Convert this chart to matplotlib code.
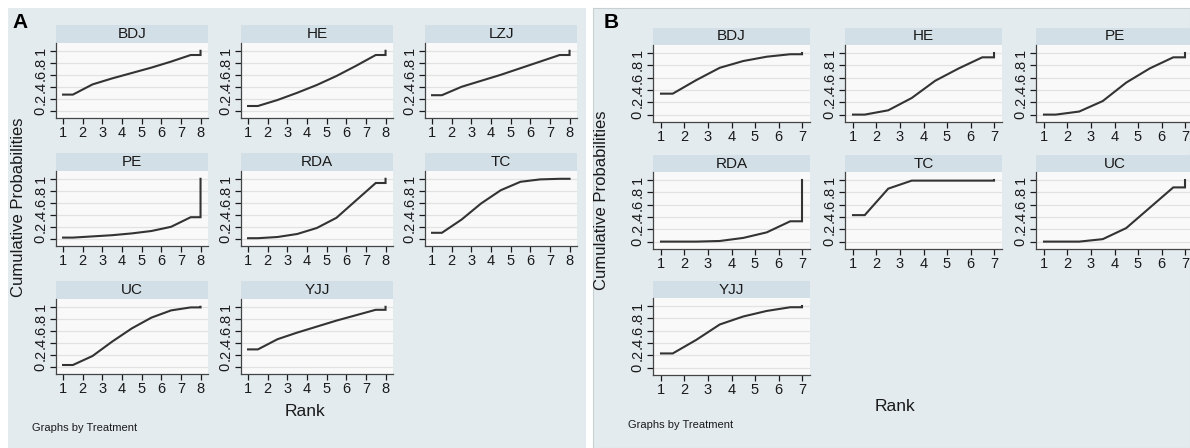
import numpy as np
import matplotlib
matplotlib.use('Agg')
import matplotlib.pyplot as plt
from matplotlib.patches import Rectangle

plt.rcParams['font.family'] = ['Liberation Sans', 'DejaVu Sans']

# данные: кумулятивные вероятности для рангов 1..n-1 (последний ранг = 1)
namesA = ['BDJ', 'HE', 'LZJ', 'PE', 'RDA', 'TC', 'UC', 'YJJ']
cumA = {
    'BDJ': [0.27, 0.44, 0.54, 0.63, 0.72, 0.82, 0.93],
    'HE':  [0.08, 0.18, 0.30, 0.43, 0.58, 0.75, 0.93],
    'LZJ': [0.26, 0.40, 0.50, 0.60, 0.71, 0.82, 0.93],
    'PE':  [0.02, 0.04, 0.06, 0.09, 0.13, 0.20, 0.36],
    'RDA': [0.01, 0.03, 0.08, 0.18, 0.35, 0.64, 0.93],
    'TC':  [0.10, 0.32, 0.59, 0.81, 0.95, 0.99, 1.00],
    'UC':  [0.03, 0.18, 0.42, 0.64, 0.82, 0.94, 0.99],
    'YJJ': [0.29, 0.46, 0.57, 0.67, 0.77, 0.86, 0.95],
}
namesB = ['BDJ', 'HE', 'PE', 'RDA', 'TC', 'UC', 'YJJ']
cumB = {
    'BDJ': [0.34, 0.56, 0.76, 0.87, 0.94, 0.98],
    'HE':  [0.00, 0.07, 0.27, 0.55, 0.75, 0.93],
    'PE':  [0.00, 0.05, 0.22, 0.52, 0.75, 0.93],
    'RDA': [0.00, 0.00, 0.01, 0.06, 0.15, 0.33],
    'TC':  [0.43, 0.86, 0.99, 0.99, 0.99, 0.99],
    'UC':  [0.00, 0.00, 0.04, 0.22, 0.55, 0.88],
    'YJJ': [0.23, 0.45, 0.70, 0.83, 0.92, 0.98],
}
yticks = [0, 0.2, 0.4, 0.6, 0.8, 1]
ytlabels = ['0', '.2', '.4', '.6', '.8', '1']

W, H = 1190, 448
BG = '#e4ebef'
STRIP = '#d3dfe7'
LINE = '#333333'

fig = plt.figure(figsize=(W / 100, H / 100), dpi=100)
fig.patch.set_facecolor('white')

def px_axes(x, y, w, h):
    # координаты в пикселях, начало сверху слева
    return fig.add_axes([x / W, 1 - (y + h) / H, w / W, h / H])

def panel(names, cum, n, cols, rows, pw, ph, sh, xlim):
    for i, name in enumerate(names):
        r, c = divmod(i, 3)
        x0, y0 = cols[c], rows[r]
        # полоска с названием
        sax = px_axes(x0, y0, pw, sh)
        sax.set_facecolor(STRIP)
        sax.set_xticks([]); sax.set_yticks([])
        for s in sax.spines.values():
            s.set_visible(False)
        sax.text(0.5, 0.5, name, ha='center', va='center', fontsize=11, color='#1a1a1a')
        ax = px_axes(x0, y0 + sh, pw, ph)
        ax.set_facecolor('#f9f9f9')
        c_vals = cum[name]
        xs = [1] + [k + 0.5 for k in range(1, n)] + [n, n]
        ys = [c_vals[0]] + list(c_vals) + [c_vals[-1], 1.0]
        ax.plot(xs, ys, color=LINE, lw=1.5, solid_joinstyle='miter')
        ax.set_xlim(*xlim)
        ax.set_ylim(-0.12, 1.13)
        ax.set_xticks(range(1, n + 1))
        ax.set_yticks(yticks)
        ax.set_yticklabels(ytlabels, rotation=90, va='center')
        ax.tick_params(labelsize=10.5, colors='#1a1a1a', length=4, width=0.9, pad=2)
        ax.grid(axis='y', color='#e2e2e2', lw=0.9)
        ax.set_axisbelow(True)
        for s in ['top', 'right']:
            ax.spines[s].set_visible(False)
        for s in ['left', 'bottom']:
            ax.spines[s].set_color('#444444')
            ax.spines[s].set_linewidth(0.9)

# фон панелей
fig.patches.append(Rectangle((8 / W, 0), 578 / W, 1 - 8 / H, transform=fig.transFigure,
                             facecolor=BG, edgecolor='none', zorder=-10))
fig.patches.append(Rectangle((593 / W, 0), (W - 593) / W, 1 - 8 / H, transform=fig.transFigure,
                             facecolor=BG, edgecolor='#c8d0d4', lw=0.8, zorder=-10))

panel(namesA, cumA, 8, [56, 241, 425], [25, 153, 281], 152, 75, 18, (0.64, 8.38))
panel(namesB, cumB, 7, [653, 845, 1036], [28, 155, 281], 157, 77, 17, (0.66, 7.34))

def ftext(x, y, s, **kw):
    fig.text(x / W, 1 - y / H, s, **kw)

ftext(12, 22, 'A', fontsize=15, fontweight='bold', va='center')
ftext(604, 22, 'B', fontsize=15, fontweight='bold', va='center')
ftext(19, 207, 'Cumulative Probabilities', rotation=90, ha='center', va='center', fontsize=12, color='#1a1a1a')
ftext(601, 200, 'Cumulative Probabilities', rotation=90, ha='center', va='center', fontsize=12, color='#1a1a1a')
ftext(305, 411, 'Rank', ha='center', va='center', fontsize=12.5, color='#1a1a1a')
ftext(895, 406, 'Rank', ha='center', va='center', fontsize=12.5, color='#1a1a1a')
ftext(32, 428, 'Graphs by Treatment', va='center', fontsize=8, color='#1a1a1a')
ftext(628, 425, 'Graphs by Treatment', va='center', fontsize=8, color='#1a1a1a')

fig.savefig('out.png', dpi=100, facecolor=fig.get_facecolor())
